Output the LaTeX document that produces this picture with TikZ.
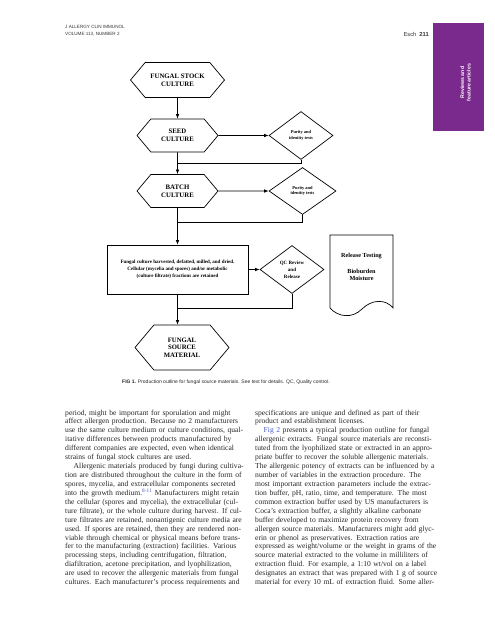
\documentclass[tikz,border=0pt]{standalone}
\usepackage{fontspec}
\setmainfont{Liberation Serif}
\setsansfont{Liberation Sans}
\usetikzlibrary{shapes.geometric,shapes.symbols,arrows.meta}

\definecolor{tabpurple}{RGB}{122,42,140}
\definecolor{linkblue}{RGB}{70,90,200}

\newlength{\colw}
\setlength{\colw}{174.5pt}
\newcommand{\fullln}[1]{\makebox[\colw][s]{#1}\\}
\newcommand{\indln}[1]{\hspace*{8.5pt}\makebox[\dimexpr\colw-8.5pt\relax][s]{#1}\\}

\tikzset{
	hexbox/.style={draw, line width=0.7pt, shape=signal, signal to=east and west, signal pointer angle=100, inner sep=0pt, align=center, font=\bfseries\fontsize{6.8}{8}\selectfont},
	testbox/.style={draw, line width=0.7pt, diamond, inner sep=0pt, align=center},
	flow/.style={-{Latex[length=4.5pt,width=3.6pt]}, line width=0.7pt},
	backline/.style={line width=0.7pt},
	bodycol/.style={anchor=base west, inner sep=0pt, text width=\colw, align=left, text=black!85, font=\fontsize{7.6}{8.93}\selectfont},
}

\begin{document}
\begin{tikzpicture}[x=1pt,y=-1pt]
	\useasboundingbox (0,0) rectangle (495,640);
	
	\fill[tabpurple] (433,23) rectangle (484,131);
	\node[rotate=90, text=white, align=center, font=\sffamily\bfseries\fontsize{5.2}{6.4}\selectfont] (TabLbl) at (465.5,82.5) {Reviews and\\feature articles};
	
	\node[anchor=base west, inner sep=0pt, align=left, text=black!80, font=\sffamily\fontsize{4.6}{7}\selectfont] (JrnHead) at (65,35.6) {J ALLERGY CLIN IMMUNOL\\VOLUME 113, NUMBER 2};
	\node[anchor=base east, inner sep=0pt, text=black!80, font=\sffamily\fontsize{5.8}{7}\selectfont] (PageHead) at (429,36) {Esch\hspace{3pt}\textbf{211}};
	
	\node[hexbox, minimum width=94pt, minimum height=35pt] (StockCult) at (177.5,80) {FUNGAL STOCK\\CULTURE};
	\node[hexbox, minimum width=81pt, minimum height=33pt] (SeedCult) at (177.5,135.5) {SEED\\CULTURE};
	\node[testbox, minimum width=64pt, minimum height=48pt, font=\bfseries\fontsize{4.4}{5.2}\selectfont] (SeedTest) at (301,135.5) {Purity and\\identity tests};
	\node[hexbox, minimum width=81pt, minimum height=33pt] (BatchCult) at (177.5,191) {BATCH\\CULTURE};
	\node[testbox, minimum width=67pt, minimum height=47pt, font=\bfseries\fontsize{4.4}{5.2}\selectfont] (BatchTest) at (302.5,191) {Purity and\\identity tests};
	\node[draw, line width=0.7pt, minimum width=141pt, minimum height=49pt, align=center, font=\bfseries\fontsize{5}{6.8}\selectfont] (Harvest) at (177.5,269.5) {Fungal culture harvested, defatted, milled, and dried.\\Cellular (mycelia and spores) and/or metabolic\\(culture filtrate) fractions are retained};
	\node[testbox, minimum width=64pt, minimum height=48pt, font=\bfseries\fontsize{5}{6.8}\selectfont] (QCRev) at (292,269.5) {QC Review\\and\\Release};
	\node[hexbox, minimum width=94pt, minimum height=45pt, font=\bfseries\fontsize{6.7}{7.6}\selectfont] (SrcMat) at (182,347.5) {FUNGAL\\SOURCE\\MATERIAL};
	
	\draw[backline] (330,308) -- (330,235) -- (393,235) -- (393,308) .. controls (386,299) and (372,299) .. (362,309) .. controls (352,319) and (338,317) .. (330,308);
	\node[align=center, font=\bfseries\fontsize{6.2}{7}\selectfont] (RelTest) at (361.5,267) {Release Testing\\[8.7pt]Bioburden\\Moisture};
	
	\coordinate (SeedJoin) at (177.5,163);
	\coordinate (BatchJoin) at (177.5,222);
	\coordinate (QCJoin) at (177.5,308);
	
	\draw[flow] (StockCult) -- (SeedCult);
	\draw[flow] (SeedCult) -- (SeedTest);
	\draw[flow] (SeedCult) -- (BatchCult);
	\draw[flow] (BatchCult) -- (BatchTest);
	\draw[flow] (BatchCult) -- (Harvest);
	\draw[flow] (Harvest) -- (QCRev);
	\draw[flow] (Harvest.south) -- (Harvest.south |- SrcMat.north);
	\draw[backline] (SeedTest.south) |- (SeedJoin);
	\draw[backline] (BatchTest.south) |- (BatchJoin);
	\draw[backline] (QCRev.south) |- (QCJoin);
	
	\node[anchor=base west, inner sep=0pt, text=black!85, font=\sffamily\fontsize{5}{6}\selectfont] (FigCap) at (122,383) {\textbf{FIG 1.} Production outline for fungal source materials. See text for details. QC, Quality control.};
	
	\node[bodycol] (LeftCol) at (65,415) {
		\fullln{period, might be important for sporulation and might}
		\fullln{affect allergen production. Because no 2 manufacturers}
		\fullln{use the same culture medium or culture conditions, qual-}
		\fullln{itative differences between products manufactured by}
		\fullln{different companies are expected, even when identical}
		strains of fungal stock cultures are used.\\
		\indln{Allergenic materials produced by fungi during cultiva-}
		\fullln{tion are distributed throughout the culture in the form of}
		\fullln{spores, mycelia, and extracellular components secreted}
		\fullln{into the growth medium.\textsuperscript{\textcolor{linkblue}{8-11}} Manufacturers might retain}
		\fullln{the cellular (spores and mycelia), the extracellular (cul-}
		\fullln{ture filtrate), or the whole culture during harvest. If cul-}
		\fullln{ture filtrates are retained, nonantigenic culture media are}
		\fullln{used. If spores are retained, then they are rendered non-}
		\fullln{viable through chemical or physical means before trans-}
		\fullln{fer to the manufacturing (extraction) facilities. Various}
		\fullln{processing steps, including centrifugation, filtration,}
		\fullln{diafiltration, acetone precipitation, and lyophilization,}
		\fullln{are used to recover the allergenic materials from fungal}
		\makebox[\colw][s]{cultures. Each manufacturer's process requirements and}};
	
	\node[bodycol] (RightCol) at (255,415) {
		\fullln{specifications are unique and defined as part of their}
		product and establishment licenses.\\
		\indln{\textcolor{linkblue}{Fig 2} presents a typical production outline for fungal}
		\fullln{allergenic extracts. Fungal source materials are reconsti-}
		\fullln{tuted from the lyophilized state or extracted in an appro-}
		\fullln{priate buffer to recover the soluble allergenic materials.}
		\fullln{The allergenic potency of extracts can be influenced by a}
		\fullln{number of variables in the extraction procedure. The}
		\fullln{most important extraction parameters include the extrac-}
		\fullln{tion buffer, pH, ratio, time, and temperature. The most}
		\fullln{common extraction buffer used by US manufacturers is}
		\fullln{Coca's extraction buffer, a slightly alkaline carbonate}
		\fullln{buffer developed to maximize protein recovery from}
		\fullln{allergen source materials. Manufacturers might add glyc-}
		\fullln{erin or phenol as preservatives. Extraction ratios are}
		\fullln{expressed as weight/volume or the weight in grams of the}
		\fullln{source material extracted to the volume in milliliters of}
		\fullln{extraction fluid. For example, a 1:10 wt/vol on a label}
		\fullln{designates an extract that was prepared with 1 g of source}
		\makebox[\colw][s]{material for every 10 mL of extraction fluid. Some aller-}};
	
\end{tikzpicture}
\end{document}
